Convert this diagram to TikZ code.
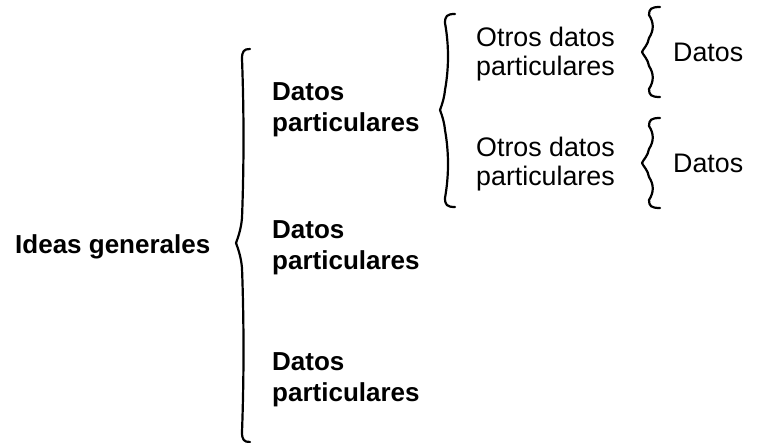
\documentclass[tikz,border=0pt]{standalone}
\usepackage{fontspec}
\setmainfont{Liberation Sans}
\newcommand\curlybr[9]{%
  % #1 hook end x, #2 vertical x, #3 tip x, #4 top y, #5 mid y, #6 bottom y, #7 arm length, #8 hook length, #9 bulge
  \draw[bracestyle] ({#1},{#4}) .. controls ({#2+2},{#4}) and ({#2},{#4+2}) .. ({#2},{#4+#8})
    .. controls ({#2+#9},{#4+#8+(#5-#7-#4-#8)/3}) and ({#2+#9},{#4+#8+2*(#5-#7-#4-#8)/3}) .. ({#2},{#5-#7})
    .. controls ({#2-1},{#5-#7/2}) and ({#3+1},{#5-3}) .. ({#3},{#5})
    .. controls ({#3+1},{#5+3}) and ({#2-1},{#5+#7/2}) .. ({#2},{#5+#7})
    .. controls ({#2+#9},{#5+#7+(#6-#8-#5-#7)/3}) and ({#2+#9},{#5+#7+2*(#6-#8-#5-#7)/3}) .. ({#2},{#6-#8})
    .. controls ({#2},{#6-2}) and ({#2+2},{#6}) .. ({#1},{#6});}
\tikzset{
  bracestyle/.style={line width=2.2pt, line cap=round, line join=round},
  boldtxt/.style={font=\fontsize{26}{31}\selectfont\bfseries, inner sep=0pt, align=left},
  regtxt/.style={font=\fontsize{26.8}{28.5}\selectfont, inner sep=0pt, align=left}
}
\begin{document}
\begin{tikzpicture}[x=1pt,y=-1pt]
\useasboundingbox[fill=white] (0,0) rectangle (760,443);
\node[boldtxt, anchor=base west] (ideas) at (15,254) {Ideas generales};
\node[boldtxt, anchor=west] (dp1) at (272,110) {Datos\\particulares};
\node[boldtxt, anchor=west] (dp2) at (272,248) {Datos\\particulares};
\node[boldtxt, anchor=west] (dp3) at (272,380) {Datos\\particulares};
\node[regtxt, anchor=west] (od1) at (476,54) {Otros datos\\particulares};
\node[regtxt, anchor=west] (od2) at (476,164) {Otros datos\\particulares};
\node[regtxt, anchor=base west] (d1) at (673,62) {Datos};
\node[regtxt, anchor=base west] (d2) at (673,173) {Datos};
\curlybr{250}{242}{236}{49}{243}{442}{25}{10}{2}
\curlybr{455}{445}{440}{14}{110}{207}{20}{9}{4}
\curlybr{660}{649}{642}{7}{52}{97}{14}{8}{5}
\curlybr{660}{649}{642}{118}{163}{208}{14}{8}{5}
\end{tikzpicture}
\end{document}
